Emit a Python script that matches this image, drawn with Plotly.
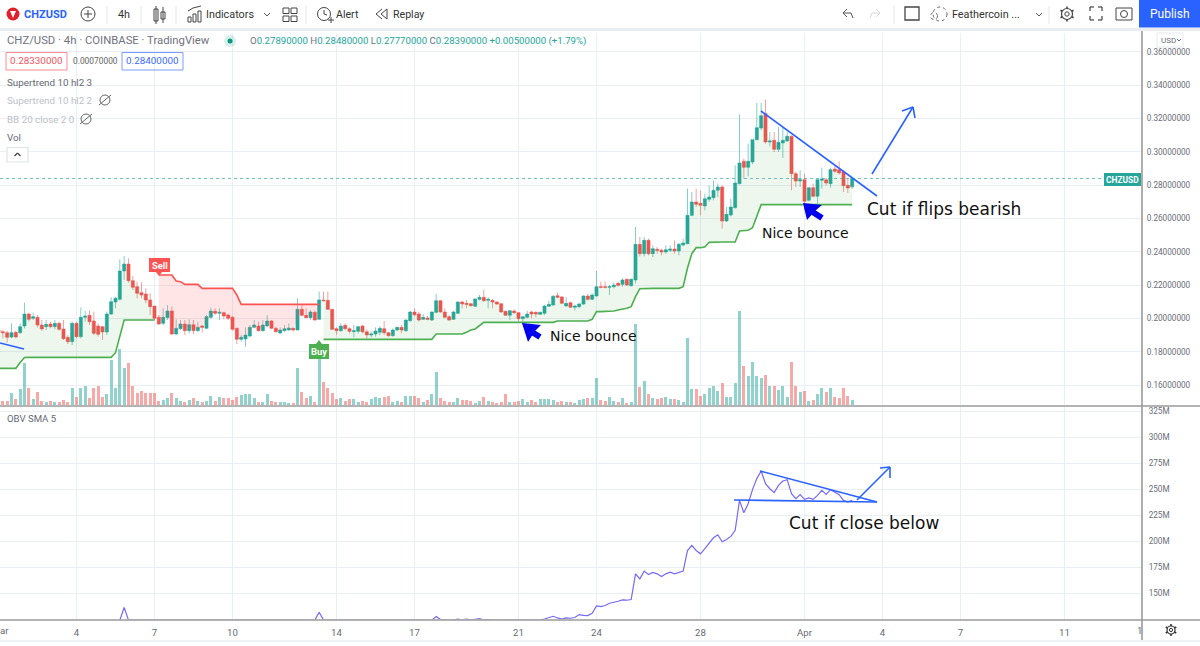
import datetime as dt
import pandas as pd
import plotly.graph_objects as go

W, H = 1200, 646

open_ = [.1930,.1920,.1914,.1888,.1916,.1914,.1954,.2026,.2000,.2006,.1960,.1950,.1966,.1950,.1970,.1936,.1886,.1860,.1970,.1890,
.2006,.2018,.1984,.1954,.1950,.1918,.2026,.2098,.2114,.2284,.2326,.2226,.2190,.2154,.2146,.2110,.2074,.2006,.1970,.2004,
.2044,.1906,.1938,.1966,.1926,.1962,.1926,.1954,.1940,.2006,.2042,.2030,.2034,.2020,.2006,.1940,.1874,.1876,.1894,.1946,
.1954,.1926,.1954,.1984,.1940,.1912,.1926,.1930,.1940,.1930,.2054,.2018,.2004,.2036,.1994,.2110,.2108,.2054,.1938,.1926,
.1958,.1938,.1920,.1922,.1954,.1920,.1900,.1906,.1916,.1938,.1914,.1896,.1930,.1946,.1926,.1986,.2038,.2026,.1994,.2002,
.1990,.2036,.2106,.2038,.2010,.1994,.2030,.2098,.2090,.2088,.2072,.2114,.2126,.2108,.2108,.2098,.2088,.2042,.2018,.2044,
.2034,.1998,.2006,.2038,.2036,.2024,.2030,.2072,.2080,.2136,.2128,.2074,.2094,.2066,.2070,.2086,.2134,.2114,.2134,.2190,
.2190,.2186,.2190,.2210,.2204,.2234,.2196,.2230,.2444,.2388,.2468,.2388,.2414,.2408,.2398,.2408,.2416,.2404,.2440,.2448,
.2618,.2698,.2690,.2674,.2714,.2724,.2768,.2788,.2584,.2620,.2664,.2808,.2942,.2906,.2938,.3072,.3142,.3228,.3058,.3068,
.3014,.3052,.3064,.3092,.2868,.2824,.2832,.2708,.2784,.2732,.2828,.2832,.2808,.2896,.2892,.2878,.2798,.2789]
high = [.1945,.1930,.1926,.1970,.1926,.1970,.2094,.2034,.2034,.2020,.1990,.1990,.1980,.1990,.1980,.1990,.1900,.1980,.1980,.2066,
.2046,.2046,.2040,.1970,.1954,.2040,.2126,.2130,.2354,.2374,.2360,.2254,.2220,.2216,.2180,.2150,.2074,.2020,.2060,.2080,
.2070,.1994,.1990,.1990,.1994,.1990,.1980,.1960,.2020,.2064,.2060,.2060,.2040,.2026,.2014,.1946,.1900,.1946,.1960,.1990,
.1980,.1990,.2020,.1990,.1950,.1946,.1960,.1970,.1946,.2120,.2080,.2060,.2050,.2046,.2160,.2160,.2160,.2054,.1946,.1970,
.1970,.1946,.1960,.1954,.1960,.1934,.1920,.1946,.1954,.1984,.1920,.1940,.1950,.1960,.1994,.2044,.2060,.2040,.2026,.2014,
.2042,.2146,.2110,.2060,.2020,.2046,.2102,.2106,.2110,.2094,.2120,.2140,.2170,.2126,.2114,.2102,.2090,.2046,.2050,.2054,
.2038,.2014,.2046,.2046,.2042,.2040,.2080,.2106,.2140,.2154,.2134,.2126,.2100,.2080,.2094,.2138,.2146,.2150,.2284,.2220,
.2220,.2200,.2214,.2220,.2240,.2240,.2240,.2548,.2488,.2488,.2478,.2438,.2428,.2418,.2438,.2438,.2468,.2452,.2478,.2778,
.2758,.2778,.2768,.2748,.2798,.2828,.2808,.2798,.2668,.2718,.2918,.3224,.2958,.3048,.3072,.3292,.3292,.3312,.3118,.3118,
.3148,.3148,.3118,.3098,.2878,.2888,.2868,.2788,.2808,.2838,.2904,.2844,.2904,.2918,.2942,.2892,.2844,.2848]
low = [.1880,.1880,.1854,.1880,.1880,.1906,.1940,.1980,.1990,.1946,.1926,.1930,.1940,.1934,.1926,.1870,.1846,.1840,.1880,.1880,
.1980,.1960,.1900,.1890,.1870,.1900,.2020,.2060,.2106,.2230,.2214,.2170,.2120,.2120,.2090,.2020,.1990,.1960,.1960,.1990,
.1900,.1900,.1930,.1900,.1910,.1906,.1920,.1914,.1934,.1994,.2020,.1990,.1994,.1990,.1926,.1846,.1860,.1830,.1886,.1940,
.1920,.1920,.1946,.1934,.1914,.1906,.1920,.1926,.1920,.1930,.2010,.2000,.1990,.1986,.1990,.2100,.2050,.1930,.1900,.1920,
.1930,.1910,.1886,.1910,.1910,.1880,.1886,.1890,.1900,.1900,.1890,.1890,.1926,.1910,.1920,.1980,.2010,.1980,.1990,.1988,
.1984,.2030,.2034,.2000,.1984,.1990,.2026,.2060,.2060,.2070,.2070,.2106,.2100,.2060,.2060,.2080,.2034,.2014,.1990,.2026,
.1984,.1960,.2000,.2000,.2006,.2020,.2020,.2070,.2074,.2120,.2086,.2070,.2062,.2046,.2060,.2080,.2106,.2110,.2130,.2180,
.2180,.2140,.2180,.2190,.2190,.2194,.2190,.2210,.2372,.2372,.2378,.2368,.2388,.2378,.2388,.2398,.2388,.2378,.2432,.2444,
.2612,.2668,.2618,.2648,.2698,.2708,.2728,.2538,.2578,.2612,.2658,.2804,.2838,.2852,.2924,.3068,.3128,.3048,.3032,.2998,
.2998,.2962,.3058,.2768,.2788,.2788,.2648,.2702,.2724,.2688,.2778,.2798,.2784,.2872,.2864,.2758,.2752,.2777]
close = [.1920,.1914,.1886,.1914,.1888,.1950,.2026,.1994,.2010,.1960,.1936,.1964,.1950,.1970,.1934,.1878,.1860,.1970,.1890,.2006,
.2014,.1980,.1910,.1904,.1918,.2026,.2100,.2120,.2284,.2326,.2226,.2186,.2150,.2140,.2110,.2070,.2000,.1966,.2006,.2044,
.1906,.1940,.1966,.1926,.1962,.1926,.1946,.1946,.2010,.2044,.2030,.2036,.2014,.2000,.1934,.1874,.1886,.1900,.1946,.1960,
.1926,.1960,.1984,.1940,.1920,.1930,.1938,.1942,.1930,.2054,.2018,.2004,.2038,.1990,.2110,.2106,.2054,.1934,.1926,.1954,
.1938,.1922,.1926,.1950,.1920,.1900,.1906,.1924,.1940,.1914,.1896,.1930,.1946,.1930,.1990,.2038,.2022,.1990,.2006,.1994,
.2038,.2106,.2038,.2006,.1990,.2038,.2098,.2086,.2084,.2076,.2116,.2126,.2106,.2114,.2098,.2086,.2038,.2018,.2046,.2034,
.1998,.2010,.2026,.2026,.2026,.2036,.2074,.2084,.2132,.2126,.2090,.2090,.2066,.2074,.2086,.2134,.2114,.2140,.2190,.2186,
.2186,.2190,.2200,.2198,.2230,.2200,.2234,.2444,.2388,.2468,.2388,.2418,.2408,.2398,.2412,.2416,.2404,.2444,.2452,.2618,
.2698,.2684,.2678,.2718,.2728,.2768,.2788,.2584,.2624,.2668,.2812,.2932,.2906,.2942,.3072,.3144,.3216,.3058,.3064,.3014,
.3056,.3068,.3092,.2868,.2824,.2832,.2702,.2784,.2732,.2832,.2836,.2812,.2892,.2882,.2872,.2796,.2782,.2839]
volume = [3.0,1.3,1.3,3.5,1.7,4.7,12.7,5.0,1.7,4.0,1.3,0.8,1.3,0.8,0.8,1.4,1.0,5.2,2.5,5.2,
5.8,2.0,5.2,5.6,2.5,3.3,13.4,5.0,16.8,11.0,12.7,5.7,3.5,4.3,3.5,3.7,3.6,1.2,1.5,2.2,
3.6,2.0,1.3,0.8,1.5,2.0,1.3,1.0,1.3,2.6,1.2,2.4,2.2,2.0,1.4,2.3,3.0,3.2,3.4,2.2,
0.8,0.8,3.2,1.2,1.0,0.8,0.8,0.6,0.6,11.2,4.0,2.2,2.8,0.8,18.0,6.8,5.2,3.7,1.7,2.0,
1.2,1.7,1.7,1.0,1.2,1.0,1.7,2.4,2.0,2.5,2.8,1.0,1.2,0.8,2.6,2.8,2.7,2.0,0.8,1.5,
3.2,10.0,2.2,1.2,1.0,1.0,2.0,1.6,1.5,1.2,0.5,1.2,2.5,1.2,0.8,0.6,0.8,3.3,1.0,1.0,
1.3,1.7,0.8,1.4,0.8,1.7,1.7,1.7,1.4,1.0,1.2,0.8,1.0,0.5,1.6,1.7,2.0,2.0,8.0,1.4,
1.2,2.4,1.2,0.8,2.0,0.6,0.8,24.2,5.3,7.3,3.4,2.2,1.7,2.2,2.4,1.7,1.7,1.5,1.0,20.0,
4.7,4.7,2.7,3.3,5.0,5.6,4.2,6.7,2.5,2.5,6.5,28.3,11.6,8.8,13.0,8.8,8.2,9.0,5.6,5.6,
4.5,5.8,2.5,12.8,5.6,4.0,4.3,1.3,1.5,3.3,5.2,4.0,5.2,2.3,2.0,5.2,2.8,1.5]
supertrend = [.1700,.1700,.1700,.1700,.1700,.1735,.1765,.1766,.1766,.1766,.1766,.1766,.1766,.1766,.1766,.1766,.1766,.1766,.1766,.1766,
.1766,.1766,.1766,.1766,.1766,.1766,.1766,.1794,.1900,.1990,.1990,.1990,.1990,.1990,.1990,.1990,.1990,.2260,.2260,.2260,
.2260,.2224,.2220,.2204,.2204,.2204,.2204,.2180,.2180,.2180,.2180,.2180,.2180,.2180,.2180,.2140,.2084,.2084,.2084,.2084,
.2084,.2084,.2084,.2084,.2084,.2084,.2084,.2084,.2084,.2084,.2084,.2084,.2084,.2084,.2084,.1874,.1874,.1874,.1874,.1874,
.1874,.1874,.1874,.1874,.1874,.1874,.1874,.1874,.1874,.1874,.1874,.1874,.1874,.1874,.1874,.1874,.1874,.1874,.1874,.1874,
.1874,.1906,.1906,.1906,.1906,.1906,.1906,.1906,.1916,.1930,.1936,.1954,.1976,.1976,.1976,.1976,.1976,.1976,.1976,.1976,
.1976,.1976,.1976,.1976,.1976,.1976,.1976,.1976,.1976,.1984,.1984,.1984,.1984,.1984,.1984,.1984,.1984,.1994,.2040,.2040,
.2040,.2040,.2044,.2050,.2054,.2060,.2070,.2130,.2178,.2180,.2180,.2180,.2180,.2180,.2180,.2180,.2180,.2180,.2190,.2302,
.2388,.2424,.2424,.2428,.2456,.2458,.2458,.2458,.2458,.2458,.2458,.2524,.2528,.2528,.2544,.2618,.2682,.2682,.2682,.2682,
.2682,.2682,.2682,.2682,.2682,.2682,.2682,.2682,.2682,.2682,.2682,.2682,.2682,.2682,.2682,.2682,.2682,.2682]
obv_bars = [28,29,30,73,74,75,100,101,102,103,105,106,107,108,109,110,111,112,113,114,125,126,127,128,129,130,131,132,133,134,135,136,137,138,139,140,141,142,143,144,145,146,147,148,149,150,151,152,153,154,155,156,157,158,159,160,161,162,163,164,165,166,167,168,169,170,171,172,173,174,175,176,177,178,179,180,181,182,183,184,185,186,187,188,189,190,191,192,193,194,195,196,197]
obv_vals = [124.5,136.6,124.5,124.5,132,124.5,124.5,128,125,124.5,124.5,125.5,124.5,125.5,124.5,125,126,124.5,125,124.5,124.5,125.6,127.2,128.2,126.6,125.6,126.6,126.3,127,129.8,129,128.8,131,138.1,137.5,138.5,140.7,141.3,142.6,143.9,143.6,144.2,168.9,164.1,171.5,168.3,170.2,168.9,166.3,168.9,170.5,168.9,169.9,171.5,191.3,196.2,191.3,188.1,193,197.8,203.5,206.4,199.7,201.9,204.8,210.6,239.4,227.6,236.2,249.7,260.3,267.6,255.4,250.6,246.8,253.8,258,259.3,245.8,241,244.9,240.4,241.7,240.4,244.2,249,245.2,249.7,247.4,244.9,239.4,237.8,239.4]
tick_dates = ["2021-03-04","2021-03-07","2021-03-10","2021-03-14","2021-03-17","2021-03-21","2021-03-24","2021-03-28","2021-04-01","2021-04-04","2021-04-07","2021-04-11"]
tick_labels = ["4","7","10","14","17","21","24","28","Apr","4","7","11"]
price_ticks = [.16,.18,.20,.22,.24,.26,.28,.30,.32,.34,.36]
obv_ticks = [150,175,200,225,250,275,300,325]

UP, DN = "#26a69a", "#ef5350"
GRID = "#e9eff5"
TXT = "#6a6d78"
BLUE = "#2962ff"
SANS = "Roboto"
HAND = "DejaVu Sans"

dates = pd.date_range("2021-03-01", periods=len(close), freq="4h")
t0 = dt.datetime(2021, 3, 1)
x_range = [t0 + dt.timedelta(days=1.5 / 26), t0 + dt.timedelta(days=1143.5 / 26)]
mid = [(o + c) / 2 for o, c in zip(open_, close)]
vol_colors = ["rgba(38,166,154,.5)" if c >= o else "rgba(239,83,80,.5)" for o, c in zip(open_, close)]
dlist = list(dates)

fig = go.Figure()
# supertrend fills and lines: up (0-36), down (37-74), up (75-197)
segments = [(0, 37, "#4caf50", "rgba(76,175,80,.10)"),
            (37, 75, "#ff5252", "rgba(255,82,82,.15)"),
            (75, 198, "#4caf50", "rgba(76,175,80,.10)")]
for a, b, col, fill in segments:
    fig.add_trace(go.Scatter(x=dlist[a:b] + dlist[a:b][::-1], y=mid[a:b] + supertrend[a:b][::-1],
                             fill="toself", fillcolor=fill, mode="none", yaxis="y", xaxis="x"))
for a, b, col, fill in segments:
    fig.add_trace(go.Scatter(x=dates[a:b], y=supertrend[a:b], mode="lines",
                             line=dict(color=col, width=1.6), yaxis="y", xaxis="x"))
fig.add_trace(go.Bar(x=dates, y=volume, marker=dict(color=vol_colors, line_width=0),
                     width=4 * 3600 * 1000 * 0.72, yaxis="y3", xaxis="x"))
fig.add_trace(go.Candlestick(x=dates, open=open_, high=high, low=low, close=close,
                             increasing=dict(line=dict(color="rgba(38,166,154,.55)", width=1), fillcolor=UP),
                             decreasing=dict(line=dict(color="rgba(239,83,80,.55)", width=1), fillcolor=DN),
                             whiskerwidth=0, yaxis="y", xaxis="x"))
fig.add_trace(go.Scatter(x=[dlist[i] for i in obv_bars], y=obv_vals, mode="lines",
                         line=dict(color="#7569f5", width=1.2), yaxis="y2", xaxis="x2"))


def X(p):
    return p / W


def Y(p):
    return 1 - p / H


shapes, annos = [], []


def line(x0, y0, x1, y1, color, width=1, dash=None):
    shapes.append(dict(type="line", xref="paper", yref="paper", x0=X(x0), y0=Y(y0), x1=X(x1), y1=Y(y1),
                       line=dict(color=color, width=width, dash=dash or "solid")))


def rect(x0, y0, x1, y1, line_color=None, fill=None, width=1):
    shapes.append(dict(type="rect", xref="paper", yref="paper", x0=X(x0), y0=Y(y0), x1=X(x1), y1=Y(y1),
                       line=dict(color=line_color or "rgba(0,0,0,0)", width=width), fillcolor=fill or "rgba(0,0,0,0)"))


def circle(cx, cy, r, line_color=None, fill=None, width=1, dash=None):
    shapes.append(dict(type="circle", xref="paper", yref="paper", x0=X(cx - r), y0=Y(cy - r), x1=X(cx + r), y1=Y(cy + r),
                       line=dict(color=line_color or "rgba(0,0,0,0)", width=width, dash=dash or "solid"),
                       fillcolor=fill or "rgba(0,0,0,0)"))


def poly(pts, fill):
    path = "M " + " L ".join(f"{X(a):.5f},{Y(b):.5f}" for a, b in pts) + " Z"
    shapes.append(dict(type="path", xref="paper", yref="paper", path=path, fillcolor=fill, line=dict(width=0)))


def text(x, y, s, size=11, color=TXT, font=SANS, anchor="left", bg=None):
    if anchor == "left":
        x -= 1
    annos.append(dict(xref="paper", yref="paper", x=X(x), y=Y(y), text=s, showarrow=False, xanchor=anchor,
                      yanchor="middle", font=dict(size=size, color=color, family=font), borderpad=0,
                      bgcolor=bg or "rgba(0,0,0,0)"))


def gear(cx, cy, r, color):
    circle(cx, cy, r, color, width=1.2)
    circle(cx, cy, r * 0.4, color)
    for dx, dy in ((0, 1), (0, -1), (.87, .5), (.87, -.5), (-.87, .5), (-.87, -.5)):
        line(cx + dx * r, cy + dy * r, cx + dx * (r + 2), cy + dy * (r + 2), color, 1.6)


# frame
rect(0, 0, 1200, 28, fill="#ffffff")
rect(0, 28, 1200, 31, fill="#e9ecf1")
line(1142, 31, 1142, 640, "#9a9a9a", 1.6)
line(0, 406, 1200, 406, "#9a9a9a", 1.6)
line(0, 620, 1200, 620, "#9a9a9a", 1.6)
line(0, 641, 1200, 641, "#eceef2", 1.5)

# toolbar
circle(13, 14, 6.5, fill="#e0202c")
poly([(10, 11), (16, 11), (13, 18)], "#ffffff")
text(24, 14, "<b>CHZUSD</b>", 11, "#2962ff")
circle(88, 14, 7, "#444444", width=1)
line(84, 14, 92, 14, "#444444")
line(88, 10, 88, 18, "#444444")
for sx in (107, 141, 176, 306, 894, 1049):
    line(sx, 6, sx, 24, "#e4e6eb")
text(124, 14, "4h", 10.8, "#333333", anchor="center")
rect(154, 9, 158, 21, "#444444")
line(156, 6, 156, 24, "#444444")
rect(161, 12, 165, 19, "#444444")
line(163, 7, 163, 23, "#444444")
for bx, bt in ((188, 17), (193, 14), (198, 11)):
    rect(bx, bt, bx + 3, 22, "#444444")
line(188, 11, 193, 8, "#444444")
line(193, 8, 201, 6, "#444444")
text(205.5, 14, "Indicators", 10.8, "#333333")
line(264, 13, 267, 16, "#555555")
line(267, 16, 270, 13, "#555555")
for gx, gy in ((283, 8), (291, 8), (283, 16), (291, 16)):
    rect(gx, gy, gx + 6, gy + 5.5, "#444444")
circle(324, 14, 6.5, "#444444")
line(324, 10, 324, 14, "#444444")
line(324, 14, 327, 15, "#444444")
line(328, 20, 334, 20, "#444444")
line(331, 17, 331, 23, "#444444")
text(336, 14, "Alert", 10.6, "#333333")
line(381, 14, 387, 9, "#444444")
line(381, 14, 387, 19, "#444444")
line(387, 9, 387, 19, "#444444")
line(376, 14, 382, 9, "#444444")
line(376, 14, 382, 19, "#444444")
text(393, 14, "Replay", 10.6, "#333333")
line(843, 13, 847, 9, "#555555")
line(843, 13, 847, 17, "#555555")
line(843, 13, 851, 13, "#555555")
line(851, 13, 853, 18, "#555555")
line(880, 13, 876, 9, "#d5d7dc")
line(880, 13, 876, 17, "#d5d7dc")
line(880, 13, 872, 13, "#d5d7dc")
line(872, 13, 870, 18, "#d5d7dc")
rect(905, 7, 919, 20, "#444444", width=1.3)
circle(940, 14, 7, "#666666", dash="dot")
circle(934, 16, 3.5, "#666666", dash="dot")
text(952, 14, "Feathercoin ...", 10.8, "#333333")
line(1036, 13, 1039, 16, "#555555")
line(1039, 16, 1042, 13, "#555555")
gear(1067, 14, 5.5, "#444444")
for a, b, c, d in ((1090, 7, 1094, 7), (1090, 7, 1090, 11), (1098, 7, 1102, 7), (1102, 7, 1102, 11),
                   (1090, 20, 1094, 20), (1090, 16, 1090, 20), (1098, 20, 1102, 20), (1102, 16, 1102, 20)):
    line(a, b, c, d, "#444444", 1.2)
rect(1116, 8, 1132, 20, "#444444")
circle(1124, 14, 3.5, "#444444")
rect(1139, 0, 1200, 27.5, fill=BLUE)
text(1169.5, 14, "Publish", 12, "#ffffff", anchor="center")

# pane legends
text(7, 41, "CHZ/USD · 4h · COINBASE · TradingView", 11.3, "#6f7280")
circle(230, 41, 6, fill="rgba(8,153,129,.15)")
circle(230, 41, 2.5, fill="#089981")
G = "#26a69a"
text(250, 41, f'<span style="color:#6f7280">O</span>0.27890000 <span style="color:#6f7280">H</span>0.28480000 '
     f'<span style="color:#6f7280">L</span>0.27770000 <span style="color:#6f7280">C</span>0.28390000 +0.00500000 (+1.79%)',
     9.65, G)
rect(6, 52.5, 67, 70, "#ff8a8f", width=1)
text(36.5, 61, "0.28330000", 9.9, "#f05560", anchor="center")
text(73, 61, "0.00070000", 8.4, "#666666")
rect(122, 52.5, 183, 70, "#7a9cff", width=1)
text(152.5, 61, "0.28400000", 9.9, "#3a6cff", anchor="center")
text(7, 82, "Supertrend 10 hl2 3", 9.8, "#666a75")
text(7, 100, "Supertrend 10 hl2 2", 9.8, "#bcbfc7")
text(7, 119, "BB 20 close 2 0", 9.8, "#bcbfc7")
text(7, 137, "Vol", 9.8, "#666a75")
for ex, ey in ((105, 100), (86, 119)):
    circle(ex, ey, 5, "#666666")
    line(ex - 6, ey + 5, ex + 6, ey - 5, "#666666")
rect(7, 147.5, 28, 162, "#e0e3eb", fill="#ffffff", width=1.2)
line(14.5, 156, 17.5, 153, "#444444", 1.3)
line(17.5, 153, 20.5, 156, "#444444", 1.3)
text(7, 418, "OBV SMA 5", 9.6, "#666a75")
text(0, 630, "ar", 9.6, "#666a75")
text(1139, 630, "1", 9.6, "#666a75", anchor="center")

# last price line + tag
shapes.append(dict(type="line", xref="paper", yref="y", x0=0, x1=X(1105), y0=close[-1], y1=close[-1],
                   line=dict(color="rgba(38,166,154,.65)", width=1, dash="dot")))
rect(1104, 173, 1141, 186, fill=UP)
text(1122.5, 179.5, "<b>CHZUSD</b>", 8.4, "#ffffff", anchor="center")
rect(1157, 33, 1183, 47, "#e6e8ed", fill="#ffffff", width=1)
text(1168, 40, "USD", 8, "#6a6d78", anchor="center")
line(1177, 39, 1179, 41, "#6a6d78")
line(1179, 41, 1181, 39, "#6a6d78")
gear(1171, 630, 4, "#333333")

# Buy / Sell labels
rect(149, 258, 170, 272, fill="#ff5252")
poly([(156, 272), (162, 272), (159, 276)], "#ff5252")
text(159.5, 265, "<b>Sell</b>", 9.4, "#ffffff", anchor="center")
rect(309, 344, 329, 359, fill="#4caf50")
poly([(316, 344), (322, 344), (319, 340)], "#4caf50")
text(319, 351.5, "<b>Buy</b>", 9.4, "#ffffff", anchor="center")

# hand drawings
line(0, 343, 24, 349, BLUE, 1.5)
line(761, 111, 877, 196, BLUE, 1.6)
line(872, 174, 913, 107, BLUE, 1.6)
line(913, 107, 902, 111, BLUE, 1.6)
line(913, 107, 915, 118, BLUE, 1.6)
line(760, 471, 877, 502, BLUE, 1.6)
line(734, 500, 877, 502, BLUE, 1.6)
line(857, 500, 890, 467, BLUE, 1.6)
line(890, 467, 880, 468, BLUE, 1.6)
line(890, 467, 890, 478, BLUE, 1.6)
PURE = "#0000ee"
line(527, 329, 540, 337, PURE, 6)
poly([(522, 323), (541, 325), (535, 331), (528, 342)], PURE)
line(808, 209, 822, 218, PURE, 6)
poly([(803, 203), (822, 205), (815, 211), (807, 220)], PURE)
text(867, 209, "Cut if flips bearish", 17, "#111111", HAND)
text(550, 335.5, "Nice bounce", 14, "#111111", HAND)
text(762, 233.5, "Nice bounce", 14, "#111111", HAND)
text(789, 523, "Cut if close below", 17, "#111111", HAND)

axis_common = dict(showline=False, zeroline=False, gridcolor=GRID, gridwidth=1)
fig.update_layout(
    width=W, height=H, margin=dict(l=0, r=0, t=0, b=0), paper_bgcolor="white", plot_bgcolor="white",
    showlegend=False, hovermode=False, barmode="overlay", bargap=0, boxgap=0.28, boxgroupgap=0,
    font=dict(family=SANS, color=TXT),
    xaxis=dict(domain=[0, 1142 / W], range=x_range, type="date", anchor="y", tickvals=tick_dates,
               showticklabels=False, ticks="", rangeslider=dict(visible=False), **axis_common),
    xaxis2=dict(domain=[0, 1142 / W], range=x_range, type="date", anchor="y2", tickvals=tick_dates,
                ticktext=tick_labels, ticks="outside", ticklen=4, tickcolor="rgba(0,0,0,0)",
                tickfont=dict(size=9.6, color="#666a75"), **axis_common),
    yaxis=dict(domain=[1 - 405 / H, 1 - 33 / H], range=[.148, .3712], side="right", anchor="x",
               tickvals=price_ticks, ticktext=[f"{v:.8f}" for v in price_ticks], ticks="outside", ticklen=2,
               tickcolor="rgba(0,0,0,0)", tickfont=dict(size=8.2, color=TXT), **axis_common),
    yaxis2=dict(domain=[1 - 619.5 / H, 1 - 407 / H], range=[125.1, 329], side="right", anchor="x2",
                tickvals=obv_ticks, ticktext=[f"{v}M" for v in obv_ticks], ticks="outside", ticklen=4,
                tickcolor="rgba(0,0,0,0)", tickfont=dict(size=8.2, color=TXT), **axis_common),
    yaxis3=dict(domain=[1 - 405 / H, 1 - 33 / H], range=[0, 111.6], overlaying="y", anchor="x",
                showgrid=False, showticklabels=False, zeroline=False, showline=False, ticks=""),
    shapes=shapes, annotations=annos,
)

fig.write_html("out.html", config=dict(displayModeBar=False),
               post_script="document.body.style.margin='0';document.body.style.overflow='hidden';")
